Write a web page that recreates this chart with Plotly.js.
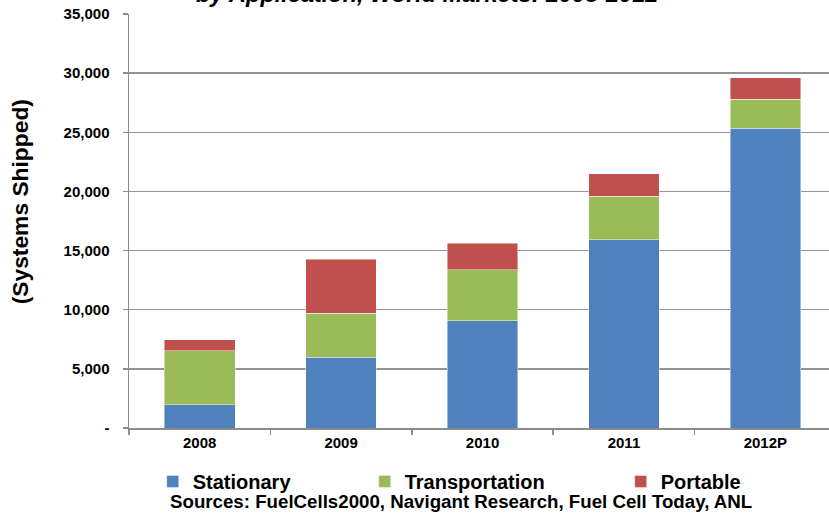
<!DOCTYPE html>
<html>
<head>
<meta charset="utf-8">
<script src="https://cdn.plot.ly/plotly-3.0.1.min.js"></script>
<style>html,body{margin:0;padding:0;background:#fff;overflow:hidden}#chart{width:829px;height:513px}</style>
</head>
<body>
<div id="chart"></div>
<script>
const years = ['2008', '2009', '2010', '2011', '2012P'];
const stationary = [1950, 6000, 9050, 15900, 25350];
const transportation = [4600, 3700, 4350, 3700, 2450];
const portable = [930, 4550, 2200, 1900, 1800];
const yTickVals = [0, 5000, 10000, 15000, 20000, 25000, 30000, 35000];
const yTickText = ['-', '5,000', '10,000', '15,000', '20,000', '25,000', '30,000', '35,000'];
const seriesNames = ['Stationary', 'Transportation', 'Portable'];
const seriesColors = ['#4F81BD', '#9BBB59', '#C0504D'];
const titleText = 'by Application, World Markets: 2008-2012';
const yTitle = '(Systems Shipped)';
const sourceText = 'Sources: FuelCells2000, Navigant Research, Fuel Cell Today, ANL';

const font = '"Liberation Sans", Arial, sans-serif';
const values = [stationary, transportation, portable];
const legendIds = ['legend', 'legend2', 'legend3'];
const legendTextStart = [193, 405, 661];
const traces = values.map((v, i) => ({
  type: 'bar',
  name: '<b>' + seriesNames[i] + '</b>',
  legend: legendIds[i],
  x: years,
  y: v,
  width: 0.5,
  marker: {color: seriesColors[i], line: {color: 'rgba(255,255,255,0.55)', width: 0.8}},
  hoverinfo: 'none'
}));

const layout = {
  width: 829, height: 513,
  margin: {l: 129, r: 0, t: 14, b: 85, pad: 0, autoexpand: false},
  paper_bgcolor: '#fff', plot_bgcolor: '#fff',
  barmode: 'stack',
  showlegend: true,
  xaxis: {
    type: 'category', range: [-0.5, 4.45],
    showline: true, linecolor: '#8c8c8c', linewidth: 1.5,
    ticks: 'outside', tickson: 'boundaries', ticklen: 5, tickcolor: '#8c8c8c', tickwidth: 1.5,
    showgrid: false,
    tickfont: {family: font, size: 15, color: '#000', weight: 'bold'}
  },
  yaxis: {
    range: [0, 35000], tickvals: yTickVals, ticktext: yTickText,
    showline: true, linecolor: '#8c8c8c', linewidth: 1.5,
    ticks: 'outside', ticklen: 5, tickcolor: '#8c8c8c', tickwidth: 1.5,
    showgrid: true, gridcolor: '#939393', gridwidth: 1.5,
    zeroline: false,
    ticklabelstandoff: 10,
    tickfont: {family: font, size: 15, color: '#000', weight: 'bold'}
  },
  annotations: [
    {text: '<b><i>' + titleText + '</i></b>', xref: 'paper', yref: 'paper',
     x: (427 - 129.3) / 700, y: (414 + 14 + 6) / 414, xanchor: 'center', yanchor: 'middle', showarrow: false,
     font: {family: font, size: 23.5, color: '#000'}},
    {text: '<b>' + yTitle + '</b>', xref: 'paper', yref: 'paper',
     x: -(129 - 20) / 700, y: (427.7 - 202) / 414, xanchor: 'center', yanchor: 'middle', showarrow: false,
     textangle: -90, font: {family: font, size: 22.8, color: '#000'}},
    {text: '<b>' + sourceText + '</b>', xref: 'paper', yref: 'paper',
     x: (461 - 129.3) / 700, y: -(501 - 427.7) / 414, xanchor: 'center', yanchor: 'middle', showarrow: false,
     font: {family: font, size: 18.7, color: '#000'}}
  ]
};
legendIds.forEach((id, i) => {
  layout[id] = {
    orientation: 'h', x: (legendTextStart[i] - 40 - 129.3) / 700, xanchor: 'left',
    y: -0.129, yanchor: 'middle', bgcolor: 'rgba(0,0,0,0)',
    font: {family: font, size: 20, color: '#000'}, itemclick: false
  };
});

Plotly.newPlot('chart', traces, layout, {displayModeBar: false, staticPlot: true});
</script>
</body>
</html>
